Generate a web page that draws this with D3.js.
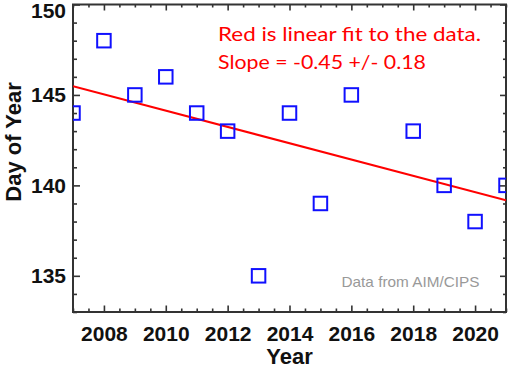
<!DOCTYPE html>
<html>
<head>
<meta charset="utf-8">
<script src="https://cdn.jsdelivr.net/npm/d3@7"></script>
<style>
html,body{margin:0;padding:0;background:#fff;}
svg{display:block;}
</style>
</head>
<body>
<svg id="chart" width="516" height="368"></svg>
<script>
// ---- data ----
const years = [2007, 2008, 2009, 2010, 2011, 2012, 2013, 2014, 2015, 2016, 2018, 2019, 2020, 2021];
const dayOfYear = [144, 148, 145, 146, 144, 143, 135, 144, 139, 145, 143, 140, 138, 140];
const xMajorTicks = [2008, 2010, 2012, 2014, 2016, 2018, 2020];
const yMajorTicks = [135, 140, 145, 150];
const xDomain = [2007, 2021];
const yDomain = [133, 150];
const noteLines = ["Red is linear fit to the data.", "Slope = -0.45 +/- 0.18"];
const sourceNote = "Data from AIM/CIPS";
const xTitle = "Year";
const yTitle = "Day of Year";

// ---- layout ----
const L = 73, R = 506, T = 4.5, B = 312;
const svg = d3.select("#chart");
const x = d3.scaleLinear().domain(xDomain).range([L, R]);
const y = d3.scaleLinear().domain(yDomain).range([B, T]);

const xMinor = d3.range(xDomain[0], xDomain[1] + 0.001, 0.5).filter(v => !xMajorTicks.includes(v));
const yMinor = d3.range(yDomain[0], yDomain[1] + 0.001, 1).filter(v => !yMajorTicks.includes(v));

const axisColor = "#333";
const labelFont = "'Liberation Sans', Arial, Helvetica, sans-serif";

svg.append("defs").append("clipPath").attr("id", "plotclip")
  .append("rect").attr("x", L).attr("y", T).attr("width", R - L).attr("height", B - T);

function styleAxis(g) {
  g.select(".domain").remove();
  g.selectAll(".tick line").attr("stroke", axisColor).attr("stroke-width", 1.6);
  g.selectAll(".tick text").attr("font-family", labelFont).attr("font-weight", "bold")
    .attr("font-size", 21).attr("fill", "#111");
}

// bottom axis
svg.append("g").attr("transform", `translate(0,${B})`)
  .call(d3.axisBottom(x).tickValues(xMajorTicks).tickSize(-6.5).tickPadding(14).tickFormat(d3.format("d")))
  .call(styleAxis);
svg.append("g").attr("transform", `translate(0,${B})`)
  .call(d3.axisBottom(x).tickValues(xMinor).tickSize(-3.5).tickFormat(""))
  .call(styleAxis);
// top axis
svg.append("g").attr("transform", `translate(0,${T})`)
  .call(d3.axisTop(x).tickValues(xMajorTicks).tickSize(-6).tickFormat(""))
  .call(styleAxis);
svg.append("g").attr("transform", `translate(0,${T})`)
  .call(d3.axisTop(x).tickValues(xMinor).tickSize(-3).tickFormat(""))
  .call(styleAxis);
// left axis
const yAx = svg.append("g").attr("transform", `translate(${L},0)`)
  .call(d3.axisLeft(y).tickValues(yMajorTicks).tickSize(-7).tickPadding(7).tickFormat(d3.format("d")))
  .call(styleAxis);
yAx.selectAll(".tick text").attr("transform", d => `translate(0,${Math.max(0, 11 - y(d))})`);
svg.append("g").attr("transform", `translate(${L},0)`)
  .call(d3.axisLeft(y).tickValues(yMinor).tickSize(-4).tickFormat(""))
  .call(styleAxis);
// right axis
svg.append("g").attr("transform", `translate(${R},0)`)
  .call(d3.axisRight(y).tickValues(yMajorTicks).tickSize(-6).tickFormat(""))
  .call(styleAxis);
svg.append("g").attr("transform", `translate(${R},0)`)
  .call(d3.axisRight(y).tickValues(yMinor).tickSize(-3).tickFormat(""))
  .call(styleAxis);

// frame
svg.append("rect").attr("x", L).attr("y", T).attr("width", R - L).attr("height", B - T)
  .attr("fill", "none").attr("stroke", axisColor).attr("stroke-width", 2);

// linear fit (least squares)
const mx = d3.mean(years), my = d3.mean(dayOfYear);
const sxy = d3.sum(years, (v, i) => (v - mx) * (dayOfYear[i] - my));
const sxx = d3.sum(years, v => (v - mx) * (v - mx));
const slope = sxy / sxx, icpt = my - slope * mx;
const plot = svg.append("g").attr("clip-path", "url(#plotclip)");
plot.append("line")
  .attr("x1", x(xDomain[0])).attr("y1", y(icpt + slope * xDomain[0]))
  .attr("x2", x(xDomain[1])).attr("y2", y(icpt + slope * xDomain[1]))
  .attr("stroke", "#ff0000").attr("stroke-width", 2);

// squares
const S = 13.5;
plot.selectAll("rect.pt").data(years).join("rect").attr("class", "pt")
  .attr("x", (d) => x(d) - S / 2).attr("y", (d, i) => y(dayOfYear[i]) - S / 2)
  .attr("width", S).attr("height", S)
  .attr("fill", "none").attr("stroke", "#1010ff").attr("stroke-width", 2);

// annotations
const note = svg.append("g").attr("font-family", "Lato, 'Noto Sans', sans-serif").attr("fill", "#ff0000").attr("font-size", 20);
note.append("text").attr("x", 218).attr("y", 40.7).text(noteLines[0])
  .attr("textLength", 263).attr("lengthAdjust", "spacingAndGlyphs");
note.append("text").attr("x", 218).attr("y", 68.5).text(noteLines[1])
  .attr("textLength", 208).attr("lengthAdjust", "spacingAndGlyphs");

svg.append("text").attr("x", 341.5).attr("y", 286.7).text(sourceNote)
  .attr("font-family", labelFont).attr("font-size", 15).attr("fill", "#999")
  .attr("textLength", 138).attr("lengthAdjust", "spacingAndGlyphs");

// axis titles
svg.append("text").attr("x", (L + R) / 2).attr("y", 364).attr("text-anchor", "middle")
  .attr("font-family", labelFont).attr("font-weight", "bold").attr("font-size", 22).attr("fill", "#111")
  .text(xTitle);
svg.append("text").attr("transform", "translate(21,142) rotate(-90)").attr("text-anchor", "middle")
  .attr("font-family", labelFont).attr("font-weight", "bold").attr("font-size", 22).attr("fill", "#111")
  .text(yTitle);
</script>
</body>
</html>
